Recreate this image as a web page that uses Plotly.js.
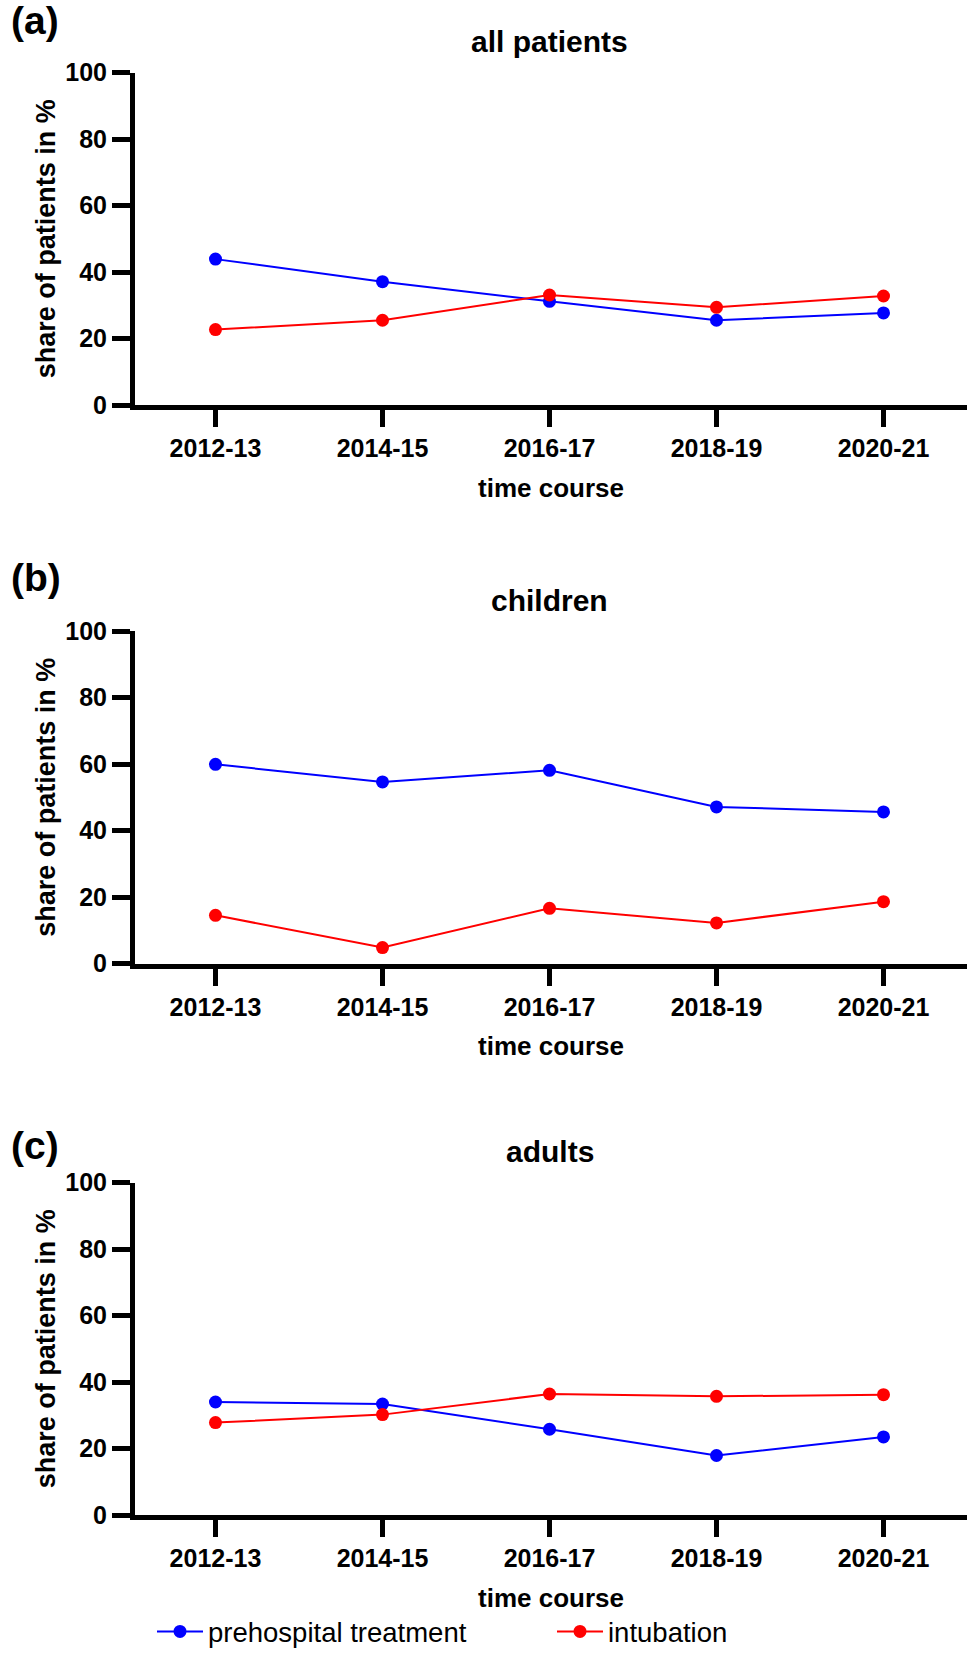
<!DOCTYPE html>
<html>
<head>
<meta charset="utf-8">
<script src="https://cdn.plot.ly/plotly-3.0.1.min.js"></script>
<style>html,body{margin:0;padding:0;background:#fff;overflow:hidden;}#chart{width:969px;height:1656px;}</style>
</head>
<body>
<div id="chart"></div>
<script>
const periods = ["2012-13", "2014-15", "2016-17", "2018-19", "2020-21"];
const panelTitles = ["all patients", "children", "adults"];
const panelLabels = ["(a)", "(b)", "(c)"];
const seriesNames = ["prehospital treatment", "intubation"];

const allPrehospital = [43.9, 37.1, 31.2, 25.5, 27.7];
const allIntubation = [22.7, 25.5, 33.1, 29.4, 32.8];
const childrenPrehospital = [59.9, 54.6, 58.1, 47.1, 45.6];
const childrenIntubation = [14.5, 4.8, 16.6, 12.2, 18.6];
const adultsPrehospital = [34.0, 33.4, 25.8, 17.9, 23.5];
const adultsIntubation = [27.8, 30.2, 36.4, 35.7, 36.2];

const yTickVals = [0, 20, 40, 60, 80, 100];

const W = 969, H = 1656;
const FONT = "Liberation Sans, Arial, Helvetica, sans-serif";
const colors = ["#0000ff", "#ff0000"];

// plot area pixel boxes (top = y of 100, bottom = y of 0)
const boxes = [
  {top: 72.7, bottom: 405},
  {top: 631, bottom: 963.5},
  {top: 1182.6, bottom: 1515}
];
const xLeft = 135, xRight = 967;

const panelData = [
  [allPrehospital, allIntubation],
  [childrenPrehospital, childrenIntubation],
  [adultsPrehospital, adultsIntubation]
];

const traces = [];
panelData.forEach((pair, p) => {
  pair.forEach((vals, s) => {
    traces.push({
      type: "scatter",
      mode: "lines+markers",
      x: periods,
      y: vals,
      name: seriesNames[s],
      legendgroup: seriesNames[s],
      showlegend: p === 0,
      xaxis: p === 0 ? "x" : "x" + (p + 1),
      yaxis: p === 0 ? "y" : "y" + (p + 1),
      line: {color: colors[s], width: 2},
      marker: {color: colors[s], size: 13, symbol: "circle"},
      cliponaxis: false
    });
  });
});

const layout = {
  width: W, height: H,
  margin: {l: 0, r: 0, t: 0, b: 0, autoexpand: false},
  paper_bgcolor: "#ffffff",
  plot_bgcolor: "#ffffff",
  font: {family: FONT, color: "#000"},
  showlegend: true,
  legend: {
    orientation: "h",
    x: 152 / W, xanchor: "left",
    y: 0, yanchor: "bottom",
    font: {family: FONT, size: 27.5, color: "#000"},
    entrywidth: 339,
    itemwidth: 46,
    bgcolor: "rgba(0,0,0,0)"
  },
  annotations: [],
  shapes: []
};

boxes.forEach((b, p) => {
  const xa = p === 0 ? "xaxis" : "xaxis" + (p + 1);
  const ya = p === 0 ? "yaxis" : "yaxis" + (p + 1);
  const yName = p === 0 ? "y" : "y" + (p + 1);
  layout[xa] = {
    domain: [xLeft / W, xRight / W],
    anchor: yName,
    type: "category",
    categoryarray: periods,
    range: [-0.482, 4.5],
    showline: true, linecolor: "#000", linewidth: 5,
    ticks: "outside", ticklen: 17, tickwidth: 5, tickcolor: "#000",
    showgrid: false, zeroline: false,
    tickfont: {family: FONT, size: 25, weight: 700, color: "#000"},
    title: {text: "time course", font: {family: FONT, size: 26, weight: 700, color: "#000"}, standoff: 19},
    automargin: false,
    fixedrange: true
  };
  layout[ya] = {
    domain: [1 - b.bottom / H, 1 - b.top / H],
    anchor: p === 0 ? "x" : "x" + (p + 1),
    range: [0, 100],
    tickvals: yTickVals,
    showline: true, linecolor: "#000", linewidth: 5,
    ticks: "outside", ticklen: 18, tickwidth: 5, tickcolor: "#000",
    showgrid: false, zeroline: false,
    tickfont: {family: FONT, size: 25, weight: 700, color: "#000"},
    title: {text: "share of patients in %", font: {family: FONT, size: 27, weight: 700, color: "#000"}, standoff: 3},
    automargin: false,
    fixedrange: true
  };
  layout.annotations.push({
    text: panelTitles[p],
    xref: "paper", yref: "paper",
    x: (132 + xRight) / 2 / W, xanchor: "center",
    y: 1 - (b.top - 31) / H, yanchor: "middle",
    showarrow: false,
    font: {family: FONT, size: 30, weight: 700, color: "#000"}
  });
});

const labelY = [20, 577, 1145];
labelY.forEach((yy, p) => {
  layout.annotations.push({
    text: panelLabels[p],
    xref: "paper", yref: "paper",
    x: 9 / W, xanchor: "left",
    y: 1 - yy / H, yanchor: "middle",
    showarrow: false,
    font: {family: FONT, size: 39, weight: 700, color: "#000"}
  });
});

Plotly.newPlot("chart", traces, layout, {displayModeBar: false, staticPlot: true});
</script>
</body>
</html>
